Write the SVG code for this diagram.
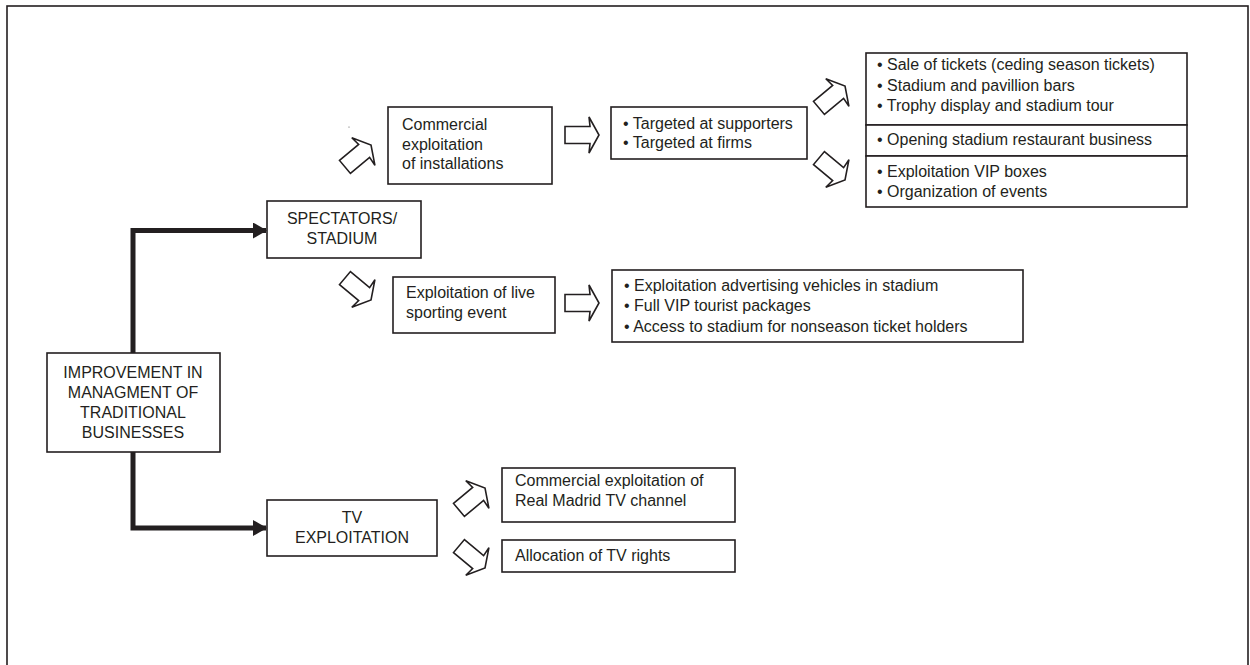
<svg xmlns="http://www.w3.org/2000/svg" xmlns:xlink="http://www.w3.org/1999/xlink" width="1250" height="665" viewBox="0 0 1250 665">
<style>
.box{fill:#fff;stroke:#231f20;stroke-width:1.6}
.t{font-family:"Liberation Sans",Arial,sans-serif;font-size:16px;fill:#231f20}
.c{text-anchor:middle}
.blk{fill:#fff;stroke:#231f20;stroke-width:1.6;stroke-linejoin:miter}
.main{fill:none;stroke:#231f20;stroke-width:5}
</style>
<defs>
<path id="ba" d="M-17,-8.5 H8 L7,-18 L17,0 L7,18 L8,8.5 H-17 Z"/>
<marker id="ah" markerUnits="userSpaceOnUse" markerWidth="14" markerHeight="16" refX="13" refY="8" orient="auto" viewBox="0 0 14 16">
<path d="M0,0 L14,8 L0,16 Z" fill="#231f20"/>
</marker>
</defs>
<rect x="7" y="6" width="1241" height="665" fill="#fff" stroke="#231f20" stroke-width="1.6"/>
<circle cx="349" cy="127" r="0.6" fill="#555"/>

<g id="connectors">
<path class="main" d="M133,353 V230.5 H266" marker-end="url(#ah)"/>
<path class="main" d="M133,452 V528 H266" marker-end="url(#ah)"/>
<use xlink:href="#ba" class="blk" transform="translate(358,156) rotate(-40)"/>
<use xlink:href="#ba" class="blk" transform="translate(582,135)"/>
<use xlink:href="#ba" class="blk" transform="translate(832,97) rotate(-40)"/>
<use xlink:href="#ba" class="blk" transform="translate(832,169) rotate(40)"/>
<use xlink:href="#ba" class="blk" transform="translate(358,289) rotate(40)"/>
<use xlink:href="#ba" class="blk" transform="translate(582,303)"/>
<use xlink:href="#ba" class="blk" transform="translate(472,499) rotate(-40)"/>
<use xlink:href="#ba" class="blk" transform="translate(472,557) rotate(40)"/>
</g>

<g id="improvement">
<rect class="box" x="47" y="353" width="173" height="99"/>
<text class="t c" x="133" y="378">IMPROVEMENT IN</text>
<text class="t c" x="133" y="398">MANAGMENT OF</text>
<text class="t c" x="133" y="418">TRADITIONAL</text>
<text class="t c" x="133" y="438">BUSINESSES</text>
</g>

<g id="spectators">
<rect class="box" x="267" y="201" width="154" height="57"/>
<text class="t c" x="342" y="224">SPECTATORS/</text>
<text class="t c" x="342" y="244">STADIUM</text>
</g>

<g id="tv">
<rect class="box" x="267" y="500" width="170" height="56"/>
<text class="t c" x="352" y="523">TV</text>
<text class="t c" x="352" y="543">EXPLOITATION</text>
</g>

<g id="commercial-installations">
<rect class="box" x="388" y="107" width="164" height="77"/>
<text class="t" x="402" y="130">Commercial</text>
<text class="t" x="402" y="149.5">exploitation</text>
<text class="t" x="402" y="169">of installations</text>
</g>

<g id="targeted">
<rect class="box" x="611" y="107" width="196" height="52"/>
<text class="t" x="623" y="129">• Targeted at supporters</text>
<text class="t" x="623" y="148">• Targeted at firms</text>
</g>

<g id="supporters-list">
<rect class="box" x="866" y="53" width="321" height="72"/>
<text class="t" x="877" y="70">• Sale of tickets (ceding season tickets)</text>
<text class="t" x="877" y="91">• Stadium and pavillion bars</text>
<text class="t" x="877" y="111">• Trophy display and stadium tour</text>
</g>

<g id="restaurant">
<rect class="box" x="866" y="125" width="321" height="31"/>
<text class="t" x="877" y="145">• Opening stadium restaurant business</text>
</g>

<g id="firms-list">
<rect class="box" x="866" y="156" width="321" height="51"/>
<text class="t" x="877" y="177">• Exploitation VIP boxes</text>
<text class="t" x="877" y="197">• Organization of events</text>
</g>

<g id="live-event">
<rect class="box" x="393" y="277" width="162" height="56"/>
<text class="t" x="406" y="298">Exploitation of live</text>
<text class="t" x="406" y="318">sporting event</text>
</g>

<g id="live-list">
<rect class="box" x="612" y="270" width="411" height="72"/>
<text class="t" x="624" y="291">• Exploitation advertising vehicles in stadium</text>
<text class="t" x="624" y="311">• Full VIP tourist packages</text>
<text class="t" x="624" y="332">• Access to stadium for nonseason ticket holders</text>
</g>

<g id="rmtv">
<rect class="box" x="502" y="468" width="233" height="54"/>
<text class="t" x="515" y="486">Commercial exploitation of</text>
<text class="t" x="515" y="506">Real Madrid TV channel</text>
</g>

<g id="tv-rights">
<rect class="box" x="502" y="540" width="233" height="32"/>
<text class="t" x="515" y="561">Allocation of TV rights</text>
</g>
</svg>
